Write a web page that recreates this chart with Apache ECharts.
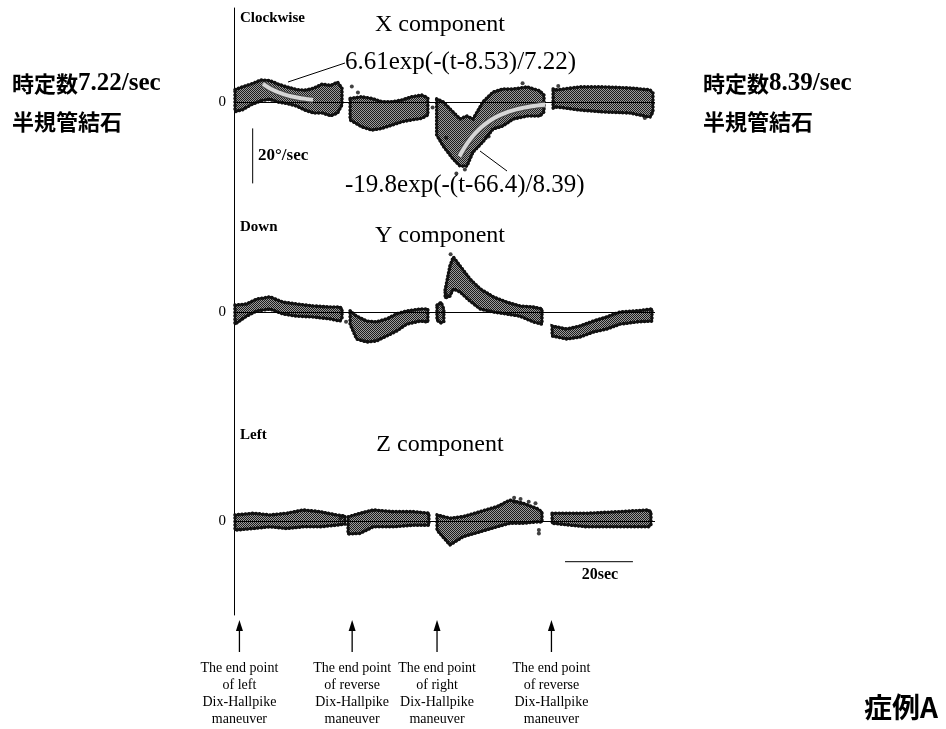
<!DOCTYPE html>
<html><head><meta charset="utf-8">
<script src="https://cdn.jsdelivr.net/npm/echarts@6/dist/echarts.min.js"></script>
<style>html,body{margin:0;padding:0;background:#fff}#c{width:946px;height:729px}</style>
</head><body><div id="c"></div>
<script>
// Eye velocity recordings (deg/s) against time (s).
// Each segment is a list of rows [t, upper edge, lower edge] of the noisy trace.
const xSegments = [
  [[0.3,4.5,-3.5],[2.5,5.5,-2.8],[5,6.5,-1.0],[8,8.0,0.5],[10.5,7.8,1.0],[13,6.5,0.0],[15.5,5.5,-0.5],[18.5,4.5,-1.5],[21,4.3,-3.0],[23.5,5.0,-4.0],[26,6.5,-4.0],[28.5,6.0,-5.0],[30.5,7.2,-4.0],[31.8,5.0,-1.0]],
  [[34.2,1.3,-6.5],[37.6,1.9,-9.0],[40.6,1.3,-10.2],[43.5,0.1,-9.6],[46.5,0.1,-8.4],[49.4,0.7,-7.2],[52.3,1.9,-6.5],[55.3,2.5,-5.9],[57.1,1.5,-4.7]],
  [[59.7,1.1,-12],[61.6,0,-16],[64.5,-3.6,-20.7],[66.6,-6.2,-23.3],[68.6,-5.1,-23.3],[70.4,-6.2,-18.2],[73.3,0,-14.5],[76.3,3.6,-9.8],[79.2,4.7,-8.7],[82.2,4.7,-6.2],[86.3,5.5,-5.1],[90.1,4.0,-5.1],[91.3,2.5,-3.6]],
  [[94,4.7,-2.2],[95.1,4.4,-1.8],[101.9,5.5,-2.9],[108.7,5.5,-3.6],[116.6,5.1,-4.0],[122.5,4.4,-5.5],[123.4,3.3,-3.6]]
];
const ySegments = [
  [[0.3,2.5,-4.4],[3.7,2.9,-1.5],[6.7,4.7,0.4],[10.6,5.5,1.1],[14.4,3.6,-0.7],[18.5,2.9,-1.5],[23.3,2.2,-1.8],[28.3,1.8,-2.5],[31.2,1.8,-3.3],[31.8,1.1,-2.2]],
  [[34.2,0.4,-4.4],[36.1,-1.5,-9.8],[39.1,-3.3,-10.9],[42,-3.6,-10.5],[45,-2.5,-8.7],[47.9,-0.7,-6.9],[50.9,0.4,-4.4],[54.8,1.1,-3.3],[57.1,1.1,-3.6]],
  [[59.8,2.5,-3.0],[61.0,3.5,-4.0],[61.8,1.0,-3.5]],
  [[62.2,8.0,5.1],[63.6,16.7,5.8],[64.6,20,8.4],[66.6,16.7,7.3],[69.5,12,4.0],[72.5,8.4,1.1],[76.4,5.5,0],[80.3,3.6,-0.7],[84.2,2.2,-1.5],[88.2,1.8,-3.6],[90.7,1.1,-4.4]],
  [[93.7,-5.1,-8.7],[98,-6.2,-9.8],[101.9,-5.1,-9.1],[105.8,-3.3,-7.3],[109.8,-1.8,-6.2],[113.7,0,-4.4],[118.6,0.4,-3.6],[123.1,1.1,-3.3]]
];
const zSegments = [
  [[0.3,2.2,-3.3],[5.7,2.8,-2.7],[10.6,2.2,-2.1],[15.5,2.8,-2.7],[20.4,4.0,-2.1],[25.3,3.4,-2.1],[30.2,2.2,-1.5],[32.7,1.8,-1.1]],
  [[33.6,1.5,-4.7],[37.1,2.8,-4.5],[41,4.0,-2.1],[46.9,3.4,-2.1],[52.8,3.4,-1.5],[57.4,2.8,-1.5]],
  [[59.8,2.2,-3.3],[63.6,1.0,-8.7],[67.5,1.6,-5.7],[72.5,3.4,-3.9],[77.4,5.2,-2.1],[81.3,7.6,-0.8],[85.2,6.4,-0.8],[89.2,4.6,-0.3],[90.7,3.3,-0.4]],
  [[93.7,2.8,-0.8],[103.9,2.8,-2.1],[113.7,3.4,-2.1],[122,4.0,-2.1],[122.8,3.3,-1.5]]
];
// Stray samples lying outside the dense traces: [t, value]
const xStray = [[34.7,5.6],[36.5,3.5],[58.5,-2.0],[62.5,-13],[65.5,-26],[68,-24.5],[75,-12.5],[85,6.8],[95.5,5.8],[121,-5.8]];
const yStray = [[62.5,6.5],[63.8,21],[33,-3.5]];
const zStray = [[82.5,8.5],[82.5,7.0],[84.4,8.0],[84.4,6.5],[86.8,7.0],[88.8,6.5],[89.8,-4.5],[89.8,-3.3],[31.3,0.8],[32.2,1.6]];

// Exponential fits of the X component: amp * exp(-(t - t0) / tau)
const fitParams = [
  { amp: 6.61, t0: 8.53, tau: 7.22, tEnd: 23.3 },
  { amp: -19.8, t0: 66.4, tau: 8.39, tEnd: 91.7 }
];

// Maneuver end points (s) and their captions
const eventTimes = [1.6, 34.8, 59.8, 93.5];
const eventLabels = [
  'The end point\nof left\nDix-Hallpike\nmaneuver',
  'The end point\nof reverse\nDix-Hallpike\nmaneuver',
  'The end point\nof right\nDix-Hallpike\nmaneuver',
  'The end point\nof reverse\nDix-Hallpike\nmaneuver'
];

// Scale bars: 20 deg/s and 20 s
const velBar = { t: 5.5, from: -9.6, length: 20 };
const timeBar = { from: 97.5, length: 20, v: -14.8 };

const T_MAX = 124;
const PX_PER_UNIT = 2.75;
const SERIF = '"Liberation Serif", "Times New Roman", serif';
const CJK = '"Noto Sans CJK JP", sans-serif';

// dithered fill for the noisy traces
const cv = document.createElement('canvas');
cv.width = 2; cv.height = 2;
const g2 = cv.getContext('2d');
g2.fillStyle = '#9c9c9c'; g2.fillRect(0, 0, 2, 2);
g2.fillStyle = '#1c1c1c';
g2.fillRect(0, 0, 1, 1); g2.fillRect(1, 1, 1, 1);
const bandFill = { image: cv, repeat: 'repeat' };

// panel geometry in pixels: top, bottom, zero line
const panels = [
  { top: 8, bottom: 215, zero: 102 },
  { top: 215, bottom: 420, zero: 312 },
  { top: 420, bottom: 615, zero: 521 }
];

const grids = panels.map(p => ({ left: 234, width: 421, top: p.top, height: p.bottom - p.top }));
grids.push({ left: 234, width: 421, top: 615, height: 114 });

const xAxes = grids.map((_, i) => ({ gridIndex: i, type: 'value', min: 0, max: T_MAX, show: false }));
const yAxes = panels.map((p, i) => ({
  gridIndex: i, type: 'value',
  max: (p.zero - p.top) / PX_PER_UNIT,
  min: -(p.bottom - p.zero) / PX_PER_UNIT,
  axisLine: { show: true, lineStyle: { color: '#000', width: 1 } },
  axisTick: { show: false }, axisLabel: { show: false }, splitLine: { show: false }
}));
yAxes.push({ gridIndex: 3, type: 'value', min: 0, max: 1, show: false });

function bandSeries(segs, idx) {
  return {
    type: 'custom', xAxisIndex: idx, yAxisIndex: idx, z: 3,
    data: segs.map((s, i) => [s[0][0], s[0][1], i]),
    encode: { x: 0, y: 1 },
    renderItem: function (params, api) {
      const seg = segs[api.value(2)];
      const pts = [];
      seg.forEach(r => pts.push(api.coord([r[0], r[1]])));
      for (let i = seg.length - 1; i >= 0; i--) pts.push(api.coord([seg[i][0], seg[i][2]]));
      return {
        type: 'group',
        children: [
          { type: 'polygon', shape: { points: pts },
            style: { fill: bandFill, stroke: '#111', lineWidth: 2, lineJoin: 'round' } },
          // beaded rim: sample dots along the trace edge
          { type: 'polygon', shape: { points: pts },
            style: { fill: null, stroke: '#111', lineWidth: 3.6, lineCap: 'round',
                     lineDash: [0.1, 3.4] } }
        ]
      };
    }
  };
}

function zeroSeries(idx) {
  return {
    type: 'line', xAxisIndex: idx, yAxisIndex: idx, data: [], z: 1,
    markLine: {
      silent: true, symbol: 'none', animation: false,
      lineStyle: { color: '#000', width: 1, type: 'solid' },
      label: { show: true, position: 'start', formatter: '0', distance: 8,
               fontFamily: SERIF, fontSize: 15, color: '#000' },
      data: [{ yAxis: 0 }]
    }
  };
}

function strayDots(pts, idx) {
  return { type: 'scatter', xAxisIndex: idx, yAxisIndex: idx, data: pts, symbolSize: 4,
           itemStyle: { color: '#111' }, z: 4, silent: true };
}

function fitCurve(f) {
  const pts = [];
  for (let t = f.t0; t <= f.tEnd + 1e-9; t += 0.25) pts.push([t, f.amp * Math.exp(-(t - f.t0) / f.tau)]);
  return pts;
}

const series = [];
[xSegments, ySegments, zSegments].forEach((segs, i) => {
  series.push(zeroSeries(i));
  series.push(bandSeries(segs, i));
});
series.push(strayDots(xStray, 0), strayDots(yStray, 1), strayDots(zStray, 2));
fitParams.forEach(f => {
  const d = fitCurve(f);
  series.push({ type: 'line', xAxisIndex: 0, yAxisIndex: 0, data: d, showSymbol: false, z: 5,
                lineStyle: { color: '#4a4a4a', width: 6.5 }, silent: true });
  series.push({ type: 'line', xAxisIndex: 0, yAxisIndex: 0, data: d, showSymbol: false, z: 6,
                lineStyle: { color: '#d6d6d6', width: 4 }, silent: true });
});
// scale bars
series.push({ type: 'line', xAxisIndex: 0, yAxisIndex: 0, showSymbol: false, z: 5,
  data: [[velBar.t, velBar.from], [velBar.t, velBar.from - velBar.length]],
  lineStyle: { color: '#000', width: 1 } });
series.push({ type: 'line', xAxisIndex: 2, yAxisIndex: 2, showSymbol: false, z: 5,
  data: [[timeBar.from, timeBar.v], [timeBar.from + timeBar.length, timeBar.v]],
  lineStyle: { color: '#000', width: 1 } });
// maneuver arrows and captions
series.push({
  type: 'custom', xAxisIndex: 3, yAxisIndex: 3, z: 5,
  data: eventTimes.map((t, i) => [t, 0, i]),
  encode: { x: 0, y: 1 },
  renderItem: function (params, api) {
    const x = api.coord([api.value(0), 0])[0];
    const top = params.coordSys.y;
    return {
      type: 'group',
      children: [
        { type: 'line', shape: { x1: x, y1: top + 10, x2: x, y2: top + 37 }, style: { stroke: '#000', lineWidth: 1.3 } },
        { type: 'polygon', shape: { points: [[x, top + 5], [x - 3.5, top + 16], [x + 3.5, top + 16]] }, style: { fill: '#000' } },
        { type: 'text', x: x, y: top + 45,
          style: { text: eventLabels[api.value(2)], font: '14px ' + SERIF, fill: '#000',
                   align: 'center', verticalAlign: 'top', lineHeight: 17 } }
      ]
    };
  }
});

function txt(text, x, y, font, align) {
  return { type: 'text', x: x, y: y, z: 10,
           style: { text: text, font: font, fill: '#000', align: align || 'left', verticalAlign: 'middle' } };
}
function sideNote(x, y, value) {
  return { type: 'text', x: x, y: y, z: 10,
    style: {
      text: '{c|時定数}{l|' + value + '/sec}\n{c|半規管結石}',
      verticalAlign: 'middle', lineHeight: 38,
      rich: {
        c: { fontFamily: CJK, fontWeight: 'bold', fontSize: 22, fill: '#000', lineHeight: 38 },
        l: { fontFamily: SERIF, fontWeight: 'bold', fontSize: 25, fill: '#000', lineHeight: 38 }
      }
    } };
}

const graphic = [
  txt('Clockwise', 240, 18, 'bold 15px ' + SERIF),
  txt('X component', 440, 25, '24px ' + SERIF, 'center'),
  txt('6.61exp(-(t-8.53)/7.22)', 345, 62, '25px ' + SERIF),
  txt('-19.8exp(-(t-66.4)/8.39)', 345, 185, '25px ' + SERIF),
  txt('20°/sec', 258, 156, 'bold 17px ' + SERIF),
  txt('Down', 240, 227, 'bold 15px ' + SERIF),
  txt('Y component', 440, 236, '24px ' + SERIF, 'center'),
  txt('Left', 240, 435, 'bold 15px ' + SERIF),
  txt('Z component', 440, 445, '24px ' + SERIF, 'center'),
  txt('20sec', 600, 575, 'bold 16px ' + SERIF, 'center'),
  { type: 'line', z: 10, shape: { x1: 288, y1: 82, x2: 345, y2: 63 }, style: { stroke: '#000', lineWidth: 1 } },
  { type: 'line', z: 10, shape: { x1: 480, y1: 151, x2: 507, y2: 171 }, style: { stroke: '#000', lineWidth: 1 } },
  sideNote(12, 103, '7.22'),
  sideNote(703, 103, '8.39'),
  txt('症例A', 938, 707, 'bold 28px ' + CJK, 'right')
];

const chart = echarts.init(document.getElementById('c'), null, { renderer: 'canvas' });
chart.setOption({
  backgroundColor: '#fff',
  animation: false,
  grid: grids, xAxis: xAxes, yAxis: yAxes,
  series: series,
  graphic: graphic
});
</script></body></html>
